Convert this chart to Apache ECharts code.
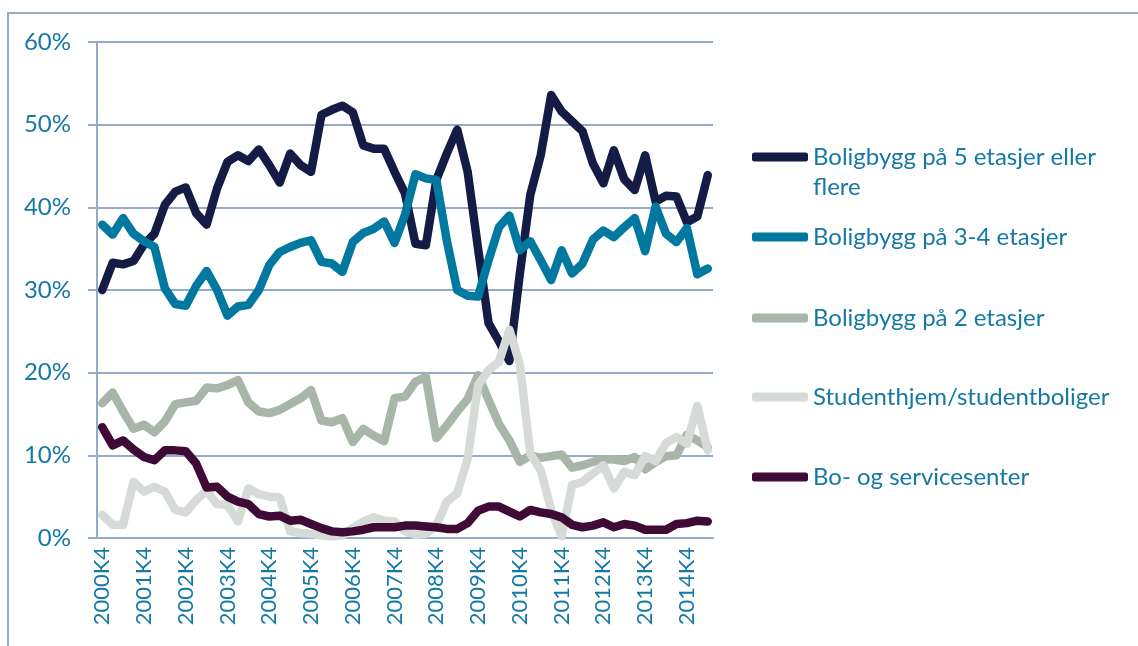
<!DOCTYPE html>
<html>
<head>
<meta charset="utf-8">
<script src="https://cdn.jsdelivr.net/npm/echarts@6/dist/echarts.min.js"></script>
<style>
    html, body { margin: 0; padding: 0; background: #fff; }
    #chart { width: 1138px; height: 646px; }
</style>
</head>
<body>
<div id="chart"></div>
<script>
// quarters 2000K4 .. 2015K2
let quarters = [];
for (let y = 2000; y <= 2015; y++) {
    for (let q = 1; q <= 4; q++) {
        if (y === 2000 && q < 4) continue;
        if (y === 2015 && q > 2) continue;
        quarters.push(y + 'K' + q);
    }
}

const seriesNames = [
    'Boligbygg på 5 etasjer eller flere',
    'Boligbygg på 3-4 etasjer',
    'Boligbygg på 2 etasjer',
    'Studenthjem/studentboliger',
    'Bo- og servicesenter'
];

const fivePlus = [30.0, 33.3, 33.1, 33.5, 35.5, 36.8, 40.3, 41.9, 42.4, 39.3,
    37.9, 42.3, 45.5, 46.3, 45.6, 47.0, 45.1, 43.0, 46.5, 45.1,
    44.3, 51.2, 51.8, 52.3, 51.5, 47.5, 47.1, 47.1, 44.3, 41.7,
    35.6, 35.4, 43.3, 46.5, 49.4, 44.3, 35.0, 26.0, 23.8, 21.4,
    32.0, 41.5, 46.3, 53.6, 51.6, 50.4, 49.2, 45.3, 42.9, 46.9,
    43.4, 42.1, 46.3, 40.7, 41.4, 41.3, 38.2, 38.9, 43.9];

const threeFour = [37.9, 36.7, 38.7, 36.8, 35.9, 35.2, 30.2, 28.3, 28.1, 30.5,
    32.3, 30.0, 26.9, 28.0, 28.2, 30.0, 33.0, 34.6, 35.2, 35.7,
    36.0, 33.4, 33.2, 32.2, 35.8, 36.9, 37.4, 38.3, 35.7, 39.1,
    44.0, 43.5, 43.3, 36.0, 30.0, 29.3, 29.2, 33.6, 37.6, 39.0,
    34.8, 35.9, 33.6, 31.2, 34.8, 32.0, 33.2, 36.1, 37.2, 36.4,
    37.6, 38.7, 34.7, 40.1, 36.8, 35.8, 37.5, 31.9, 32.6];

const two = [16.3, 17.6, 15.3, 13.2, 13.7, 12.8, 14.1, 16.2, 16.4, 16.6,
    18.2, 18.1, 18.5, 19.1, 16.4, 15.3, 15.1, 15.5, 16.2, 16.9,
    17.9, 14.2, 14.0, 14.5, 11.6, 13.2, 12.4, 11.7, 16.9, 17.1,
    18.9, 19.5, 12.1, 13.6, 15.3, 16.8, 19.7, 16.7, 13.8, 11.8,
    9.2, 10.0, 9.7, 9.9, 10.1, 8.5, 8.8, 9.2, 9.5, 9.5,
    9.3, 9.8, 8.3, 9.2, 9.9, 10.0, 12.5, 11.8, 11.0];

const student = [2.8, 1.6, 1.6, 6.8, 5.6, 6.2, 5.6, 3.4, 3.1, 4.6,
    5.7, 4.1, 4.0, 2.0, 6.0, 5.3, 5.0, 4.9, 0.8, 0.6,
    0.5, 0.3, 0.2, 0.3, 1.2, 2.0, 2.5, 2.1, 2.0, 0.8,
    0.4, 0.5, 1.5, 4.4, 5.4, 9.6, 18.5, 20.3, 21.3, 25.2,
    21.0, 10.2, 8.2, 3.4, 0.2, 6.4, 6.8, 7.8, 8.8, 6.0,
    8.0, 7.6, 9.9, 9.3, 11.5, 12.2, 11.4, 16.0, 10.6];

const service = [13.4, 11.2, 11.8, 10.7, 9.8, 9.4, 10.6, 10.6, 10.5, 9.0,
    6.1, 6.2, 5.0, 4.4, 4.1, 2.9, 2.6, 2.7, 2.1, 2.2,
    1.7, 1.2, 0.8, 0.7, 0.8, 1.0, 1.3, 1.3, 1.3, 1.5,
    1.5, 1.4, 1.3, 1.1, 1.1, 1.8, 3.3, 3.8, 3.8, 3.2,
    2.6, 3.4, 3.1, 2.9, 2.5, 1.6, 1.3, 1.5, 1.9, 1.3,
    1.7, 1.5, 1.0, 1.0, 1.0, 1.7, 1.8, 2.1, 2.0];

const colors = ['#141c45', '#0078a0', '#a8b5a9', '#d7dbd8', '#3f0a36'];
const textColor = '#1579a5';
const gridColor = '#93abc4';
const legendCenters = [157, 237, 318, 397, 477];

const allData = [fivePlus, threeFour, two, student, service];

const myChart = echarts.init(document.getElementById('chart'));

let option = {
    animation: false,
    grid: { left: 97, right: 425, top: 42, bottom: 108 },
    graphic: [{
        type: 'rect',
        shape: { x: 8, y: 13, width: 1140, height: 640 },
        style: { fill: 'none', stroke: gridColor, lineWidth: 2 }
    }],
    legend: seriesNames.map((name, i) => ({
        data: [name],
        left: 752,
        top: legendCenters[i] - (i === 0 ? 45 : 15),
        padding: 0,
        itemWidth: 56,
        itemHeight: 9,
        itemGap: 0,
        icon: 'roundRect',
        selectedMode: false,
        // first entry wraps; blank line on top keeps the icon beside line one
        formatter: i === 0 ? ' \nBoligbygg på 5 etasjer eller\nflere' : '{name}',
        textStyle: {
            color: textColor,
            fontSize: 24,
            fontFamily: 'Lato',
            lineHeight: 30
        }
    })),
    xAxis: {
        type: 'category',
        data: quarters,
        boundaryGap: true,
        axisLine: { lineStyle: { color: gridColor, width: 2 } },
        axisTick: { interval: 0, length: 7, lineStyle: { color: gridColor, width: 2 } },
        axisLabel: {
            interval: 3,
            rotate: 90,
            margin: 9,
            color: textColor,
            fontSize: 22,
            fontFamily: 'Lato'
        },
        splitLine: { show: false }
    },
    yAxis: {
        type: 'value',
        min: 0,
        max: 60,
        interval: 10,
        axisLine: { show: true, lineStyle: { color: gridColor, width: 2 } },
        axisTick: { show: true, length: 9, lineStyle: { color: gridColor, width: 2 } },
        axisLabel: {
            formatter: '{value}%',
            margin: 26,
            color: textColor,
            fontSize: 24,
            fontFamily: 'Lato'
        },
        splitLine: { lineStyle: { color: gridColor, width: 2 } }
    },
    series: seriesNames.map((name, i) => ({
        name: name,
        type: 'line',
        data: allData[i],
        showSymbol: false,
        symbol: 'none',
        color: colors[i],
        lineStyle: { width: 8.5, color: colors[i], cap: 'round', join: 'round' },
        itemStyle: { color: colors[i] }
    }))
};

option && myChart.setOption(option);
</script>
</body>
</html>
